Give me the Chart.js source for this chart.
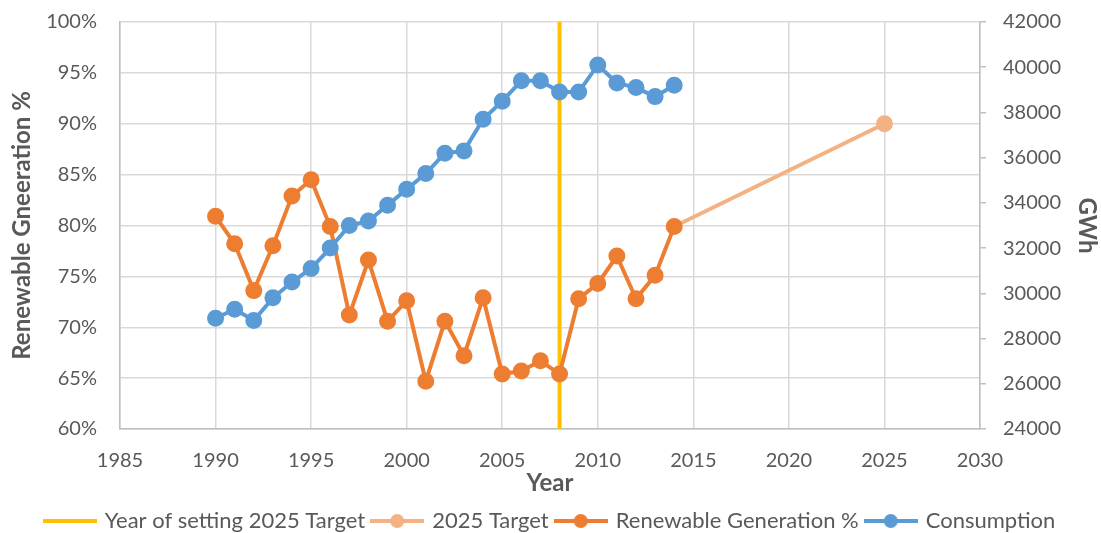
<!DOCTYPE html>
<html>
<head>
<meta charset="utf-8">
<script src="https://cdn.jsdelivr.net/npm/chart.js@4.4.0/dist/chart.umd.min.js"></script>
<style>
  html, body { margin: 0; padding: 0; background: #fff; }
  #wrap { width: 1101px; height: 533px; }
</style>
</head>
<body>
<div id="wrap"><canvas id="chart" width="1101" height="533"></canvas></div>
<script>
// data
const years = [1990, 1991, 1992, 1993, 1994, 1995, 1996, 1997, 1998, 1999, 2000, 2001,
  2002, 2003, 2004, 2005, 2006, 2007, 2008, 2009, 2010, 2011, 2012, 2013, 2014]
const renewablePct = [80.9, 78.2, 73.6, 78.0, 82.9, 84.5, 79.9, 71.2, 76.6, 70.6, 72.6, 64.7,
  70.6, 67.2, 72.9, 65.4, 65.7, 66.7, 65.4, 72.8, 74.3, 77.0, 72.8, 75.1, 79.9]
const consumptionGWh = [28900, 29300, 28800, 29800, 30500, 31100, 32000, 33000, 33200, 33900, 34600, 35300,
  36200, 36300, 37700, 38500, 39400, 39400, 38900, 38900, 40100, 39300, 39100, 38700, 39200]
const targetYears = [2014, 2025]
const targetPct = [79.9, 90]
const settingYear = 2008
const pctRange = [60, 100]
const gwhRange = [24000, 42000]

const FONT = "Lato, 'Open Sans', sans-serif"
const GREY = '#595959'

// legend icons: a short line with a dot, like Excel
function legendIcon(color, withDot){
  const c = document.createElement('canvas')
  c.width = 54; c.height = 16
  const g = c.getContext('2d')
  g.strokeStyle = color; g.lineWidth = 4; g.lineCap = 'butt'
  g.beginPath(); g.moveTo(0, 8); g.lineTo(54, 8); g.stroke()
  if (withDot){
    g.fillStyle = color
    g.beginPath(); g.arc(27, 8, 7, 0, Math.PI*2); g.fill()
  }
  return c
}
const icons = [
  legendIcon('#FFC000', false),
  legendIcon('#F4B183', true),
  legendIcon('#ED7D31', true),
  legendIcon('#5B9BD5', true)
]

const pairs = (xs, ys) => xs.map((x, i) => ({x: x, y: ys[i]}))

// the tick padding is meant sideways only, so drop it from the top/bottom overflow
const trimPad = s => { s.paddingTop = 12; s.paddingBottom = 12 }

new Chart(document.getElementById('chart'), {
  type: 'line',
  data: {
    datasets: [
      {
        label: 'Year of setting 2025 Target',
        data: [{x: settingYear, y: pctRange[0]}, {x: settingYear, y: pctRange[1]}],
        borderColor: '#FFC000', backgroundColor: '#FFC000',
        borderWidth: 4, pointRadius: 0, yAxisID: 'y', order: 4
      },
      {
        label: '2025 Target',
        data: pairs(targetYears, targetPct),
        borderColor: '#F4B183', backgroundColor: '#F4B183',
        borderWidth: 4, pointRadius: [0, 6.5], pointHoverRadius: [0, 6.5], yAxisID: 'y', order: 3
      },
      {
        label: 'Renewable Generation %',
        data: pairs(years, renewablePct),
        borderColor: '#ED7D31', backgroundColor: '#ED7D31',
        borderWidth: 4, pointRadius: 6.5, yAxisID: 'y', order: 2
      },
      {
        label: 'Consumption',
        data: pairs(years, consumptionGWh),
        borderColor: '#5B9BD5', backgroundColor: '#5B9BD5',
        borderWidth: 4, pointRadius: 6.5, yAxisID: 'y1', order: 1
      }
    ]
  },
  options: {
    responsive: false,
    animation: false,
    layout: { padding: { top: 22, left: 0, right: 0, bottom: -9 } },
    elements: { line: { tension: 0 }, point: { pointStyle: 'circle' } },
    plugins: {
      tooltip: { enabled: false },
      legend: {
        position: 'bottom',
        labels: {
          usePointStyle: true,
          pointStyleWidth: 48,
          font: { family: FONT, size: 22 },
          color: GREY,
          padding: 8,
          sort: (a, b) => a.datasetIndex - b.datasetIndex,
          generateLabels: chart => {
            const items = Chart.defaults.plugins.legend.labels.generateLabels(chart)
            items.forEach(it => { it.pointStyle = icons[it.datasetIndex] })
            return items
          }
        }
      }
    },
    scales: {
      x: {
        type: 'linear', min: 1985, max: 2030,
        ticks: { stepSize: 5, color: GREY, padding: 20, font: { family: FONT, size: 20 }, callback: v => String(v) },
        grid: { color: '#D9D9D9', lineWidth: 1.5, drawTicks: false },
        border: { color: '#BFBFBF', width: 1.5 },
        title: { display: true, text: 'Year', color: GREY, font: { family: FONT, size: 24, weight: 'bold' }, padding: { top: 0, bottom: 4 } },
        afterFit: s => { s.height = 73 }
      },
      y: {
        position: 'left', min: pctRange[0], max: pctRange[1],
        ticks: { stepSize: 5, color: GREY, padding: 23, font: { family: FONT, size: 20 }, callback: v => v + '%' },
        grid: { color: '#D9D9D9', lineWidth: 1.5, drawTicks: false },
        border: { color: '#BFBFBF', width: 1.5 },
        title: { display: true, text: 'Renewable Gneeration %', color: GREY, font: { family: FONT, size: 24, weight: 'bold' }, padding: 8 },
        afterFit: s => { s.width = 120; trimPad(s) }
      },
      y1: {
        position: 'right', min: gwhRange[0], max: gwhRange[1],
        ticks: { stepSize: 2000, color: GREY, padding: 17, font: { family: FONT, size: 20 }, callback: v => String(v) },
        grid: { drawOnChartArea: false, color: '#BFBFBF', lineWidth: 1.5, tickLength: 6 },
        border: { color: '#BFBFBF', width: 1.5 },
        title: { display: true, text: 'GWh', color: GREY, font: { family: FONT, size: 24, weight: 'bold' }, padding: 0 },
        afterFit: s => { s.width = 121; trimPad(s) }
      }
    }
  }
})
</script>
</body>
</html>
